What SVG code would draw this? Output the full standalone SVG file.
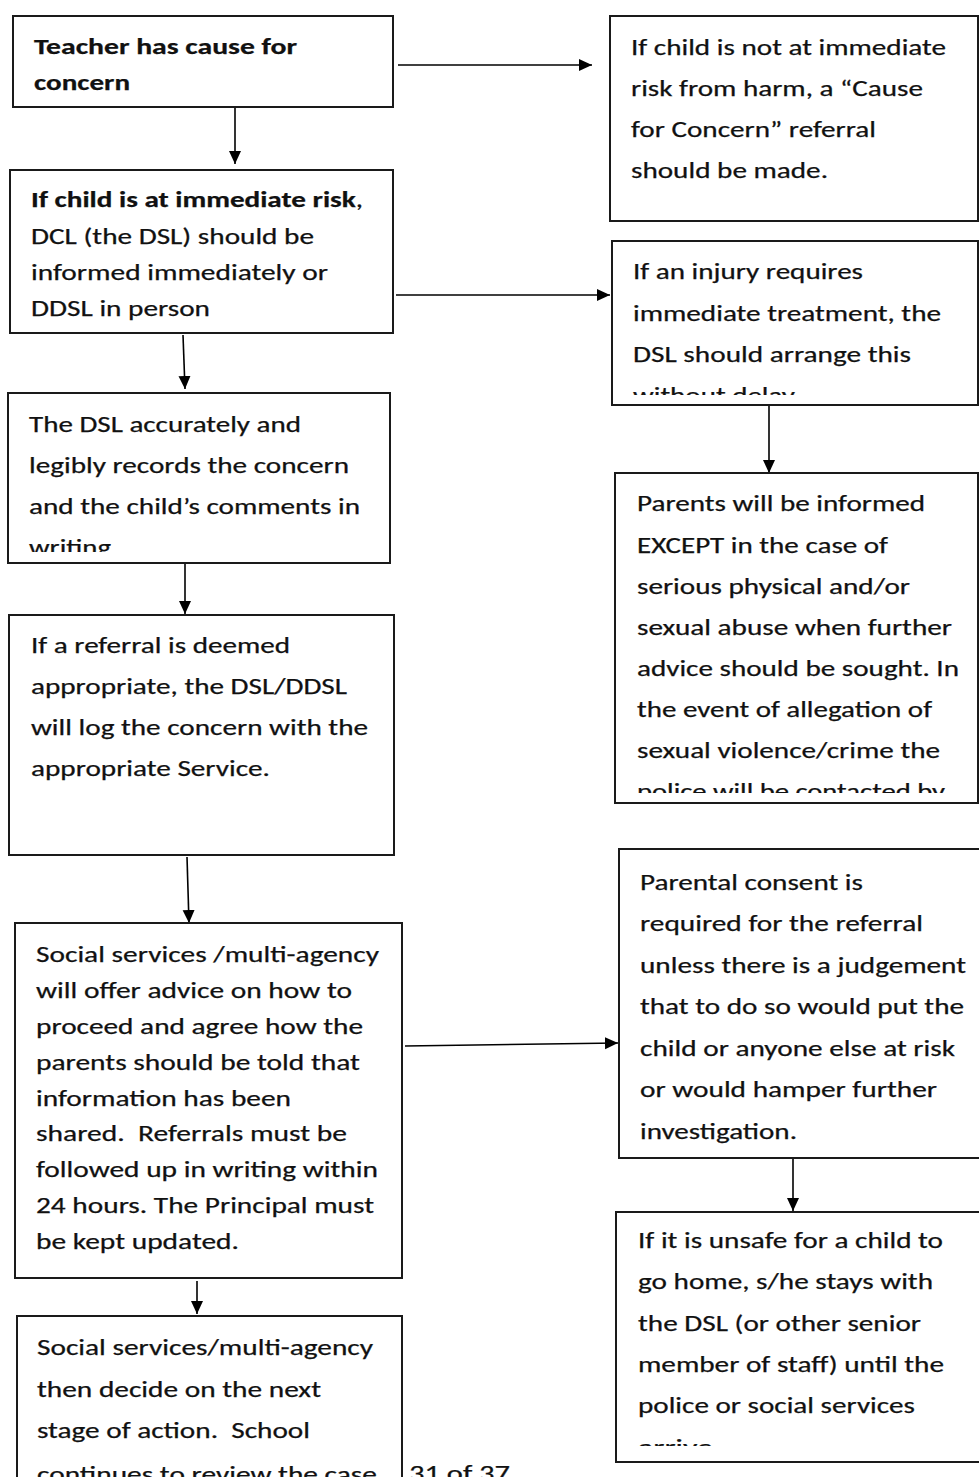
<svg xmlns="http://www.w3.org/2000/svg" width="979" height="1477" viewBox="0 0 979 1477">
<style>
.box{fill:#fff;stroke:#1a1a1a;stroke-width:2}
.t{font-family:Carlito,Calibri,Lato,"Open Sans",sans-serif;font-size:23px;fill:#111;stroke:#111;stroke-width:0.25}
.b{font-weight:bold}
.c{stroke:#000;stroke-width:1.6;fill:none;marker-end:url(#ah)}
</style>
<defs>
<marker id="ah" markerUnits="userSpaceOnUse" markerWidth="14" markerHeight="14" refX="13" refY="7" orient="auto">
<path d="M0,1 L13,7 L0,13 z" fill="#000"/>
</marker>
<clipPath id="c4"><rect x="612" y="241" width="367" height="154"/></clipPath>
<clipPath id="cdsl"><rect x="8" y="393" width="383" height="159"/></clipPath>
<clipPath id="c5"><rect x="615" y="473" width="364" height="320"/></clipPath>
<clipPath id="c7"><rect x="616" y="1212" width="363" height="234"/></clipPath>
</defs>
<rect width="979" height="1477" fill="#fff"/>

<g id="connectors">
<line class="c" x1="398" y1="65" x2="592" y2="65"/>
<line class="c" x1="235" y1="107" x2="235" y2="164"/>
<line class="c" x1="396" y1="295" x2="610" y2="295"/>
<line class="c" x1="183" y1="335" x2="185" y2="389"/>
<line class="c" x1="769" y1="405" x2="769" y2="473"/>
<line class="c" x1="185" y1="564" x2="185" y2="614"/>
<line class="c" x1="187" y1="857" x2="189" y2="923"/>
<line class="c" x1="405" y1="1046" x2="618" y2="1043"/>
<line class="c" x1="793" y1="1158" x2="793" y2="1211"/>
<line class="c" x1="197" y1="1281" x2="197" y2="1314"/>
</g>

<g id="n1">
<rect class="box" x="13" y="16" width="380" height="91"/>
<text class="t b" x="34" y="54" textLength="263" lengthAdjust="spacingAndGlyphs">Teacher has cause for</text>
<text class="t b" x="34" y="90" textLength="96" lengthAdjust="spacingAndGlyphs">concern</text>
</g>

<g id="n2">
<rect class="box" x="610" y="16" width="368" height="205"/>
<text class="t" x="631" y="55" textLength="315" lengthAdjust="spacingAndGlyphs">If child is not at immediate</text>
<text class="t" x="631" y="96" textLength="292" lengthAdjust="spacingAndGlyphs">risk from harm, a “Cause</text>
<text class="t" x="631" y="137" textLength="245" lengthAdjust="spacingAndGlyphs">for Concern” referral</text>
<text class="t" x="631" y="178" textLength="197" lengthAdjust="spacingAndGlyphs">should be made.</text>
</g>

<g id="n3">
<rect class="box" x="10" y="170" width="383" height="163"/>
<text class="t" x="31" y="207" textLength="332" lengthAdjust="spacingAndGlyphs"><tspan class="b">If child is at immediate risk</tspan>,</text>
<text class="t" x="31" y="244" textLength="283" lengthAdjust="spacingAndGlyphs">DCL (the DSL) should be</text>
<text class="t" x="31" y="280" textLength="297" lengthAdjust="spacingAndGlyphs">informed immediately or</text>
<text class="t" x="31" y="316" textLength="179" lengthAdjust="spacingAndGlyphs">DDSL in person</text>
</g>

<g id="n4">
<rect class="box" x="612" y="241" width="366" height="164"/>
<g clip-path="url(#c4)">
<text class="t" x="633" y="279" textLength="230" lengthAdjust="spacingAndGlyphs">If an injury requires</text>
<text class="t" x="633" y="321" textLength="308" lengthAdjust="spacingAndGlyphs">immediate treatment, the</text>
<text class="t" x="633" y="362" textLength="278" lengthAdjust="spacingAndGlyphs">DSL should arrange this</text>
<text class="t" x="633" y="403" textLength="162" lengthAdjust="spacingAndGlyphs">without delay</text>
</g>
</g>

<g id="n5">
<rect class="box" x="8" y="393" width="382" height="170"/>
<g clip-path="url(#cdsl)">
<text class="t" x="29" y="432" textLength="272" lengthAdjust="spacingAndGlyphs">The DSL accurately and</text>
<text class="t" x="29" y="473" textLength="320" lengthAdjust="spacingAndGlyphs">legibly records the concern</text>
<text class="t" x="29" y="514" textLength="331" lengthAdjust="spacingAndGlyphs">and the child’s comments in</text>
<text class="t" x="29" y="555" textLength="82" lengthAdjust="spacingAndGlyphs">writing</text>
</g>
</g>

<g id="n6">
<rect class="box" x="615" y="473" width="363" height="330"/>
<g clip-path="url(#c5)">
<text class="t" x="637" y="511" textLength="288" lengthAdjust="spacingAndGlyphs">Parents will be informed</text>
<text class="t" x="637" y="553" textLength="251" lengthAdjust="spacingAndGlyphs">EXCEPT in the case of</text>
<text class="t" x="637" y="594" textLength="273" lengthAdjust="spacingAndGlyphs">serious physical and/or</text>
<text class="t" x="637" y="635" textLength="315" lengthAdjust="spacingAndGlyphs">sexual abuse when further</text>
<text class="t" x="637" y="676" textLength="322" lengthAdjust="spacingAndGlyphs">advice should be sought. In</text>
<text class="t" x="637" y="717" textLength="295" lengthAdjust="spacingAndGlyphs">the event of allegation of</text>
<text class="t" x="637" y="758" textLength="303" lengthAdjust="spacingAndGlyphs">sexual violence/crime the</text>
<text class="t" x="637" y="799" textLength="308" lengthAdjust="spacingAndGlyphs">police will be contacted by</text>
</g>
</g>

<g id="n7">
<rect class="box" x="9" y="615" width="385" height="240"/>
<text class="t" x="31" y="653" textLength="259" lengthAdjust="spacingAndGlyphs">If a referral is deemed</text>
<text class="t" x="31" y="694" textLength="316" lengthAdjust="spacingAndGlyphs">appropriate, the DSL/DDSL</text>
<text class="t" x="31" y="735" textLength="337" lengthAdjust="spacingAndGlyphs">will log the concern with the</text>
<text class="t" x="31" y="776" textLength="239" lengthAdjust="spacingAndGlyphs">appropriate Service.</text>
</g>

<g id="n8">
<rect class="box" x="619" y="849" width="362" height="309"/>
<text class="t" x="640" y="890" textLength="223" lengthAdjust="spacingAndGlyphs">Parental consent is</text>
<text class="t" x="640" y="931" textLength="283" lengthAdjust="spacingAndGlyphs">required for the referral</text>
<text class="t" x="640" y="973" textLength="326" lengthAdjust="spacingAndGlyphs">unless there is a judgement</text>
<text class="t" x="640" y="1014" textLength="324" lengthAdjust="spacingAndGlyphs">that to do so would put the</text>
<text class="t" x="640" y="1056" textLength="315" lengthAdjust="spacingAndGlyphs">child or anyone else at risk</text>
<text class="t" x="640" y="1097" textLength="297" lengthAdjust="spacingAndGlyphs">or would hamper further</text>
<text class="t" x="640" y="1139" textLength="157" lengthAdjust="spacingAndGlyphs">investigation.</text>
</g>

<g id="n9">
<rect class="box" x="15" y="923" width="387" height="355"/>
<text class="t" x="36" y="962" textLength="343" lengthAdjust="spacingAndGlyphs">Social services /multi-agency</text>
<text class="t" x="36" y="998" textLength="316" lengthAdjust="spacingAndGlyphs">will offer advice on how to</text>
<text class="t" x="36" y="1034" textLength="327" lengthAdjust="spacingAndGlyphs">proceed and agree how the</text>
<text class="t" x="36" y="1070" textLength="324" lengthAdjust="spacingAndGlyphs">parents should be told that</text>
<text class="t" x="36" y="1106" textLength="255" lengthAdjust="spacingAndGlyphs">information has been</text>
<text class="t" x="36" y="1141" textLength="311" lengthAdjust="spacingAndGlyphs" xml:space="preserve">shared.  Referrals must be</text>
<text class="t" x="36" y="1177" textLength="342" lengthAdjust="spacingAndGlyphs">followed up in writing within</text>
<text class="t" x="36" y="1213" textLength="338" lengthAdjust="spacingAndGlyphs">24 hours. The Principal must</text>
<text class="t" x="36" y="1249" textLength="203" lengthAdjust="spacingAndGlyphs">be kept updated.</text>
</g>

<g id="n10">
<rect class="box" x="616" y="1212" width="364" height="250"/>
<g clip-path="url(#c7)">
<text class="t" x="638" y="1248" textLength="305" lengthAdjust="spacingAndGlyphs">If it is unsafe for a child to</text>
<text class="t" x="638" y="1289" textLength="295" lengthAdjust="spacingAndGlyphs">go home, s/he stays with</text>
<text class="t" x="638" y="1331" textLength="283" lengthAdjust="spacingAndGlyphs">the DSL (or other senior</text>
<text class="t" x="638" y="1372" textLength="306" lengthAdjust="spacingAndGlyphs">member of staff) until the</text>
<text class="t" x="638" y="1413" textLength="277" lengthAdjust="spacingAndGlyphs">police or social services</text>
<text class="t" x="638" y="1455" textLength="75" lengthAdjust="spacingAndGlyphs">arrive</text>
</g>
</g>

<g id="n11">
<rect class="box" x="17" y="1316" width="385" height="180"/>
<text class="t" x="37" y="1355" textLength="336" lengthAdjust="spacingAndGlyphs">Social services/multi-agency</text>
<text class="t" x="37" y="1397" textLength="284" lengthAdjust="spacingAndGlyphs">then decide on the next</text>
<text class="t" x="37" y="1438" textLength="273" lengthAdjust="spacingAndGlyphs" xml:space="preserve">stage of action.  School</text>
<text class="t" x="37" y="1482" textLength="340" lengthAdjust="spacingAndGlyphs">continues to review the case</text>
</g>

<g id="page">
<text class="t" x="409" y="1481" font-size="25" textLength="101" lengthAdjust="spacingAndGlyphs">31 of 37</text>
</g>
</svg>
